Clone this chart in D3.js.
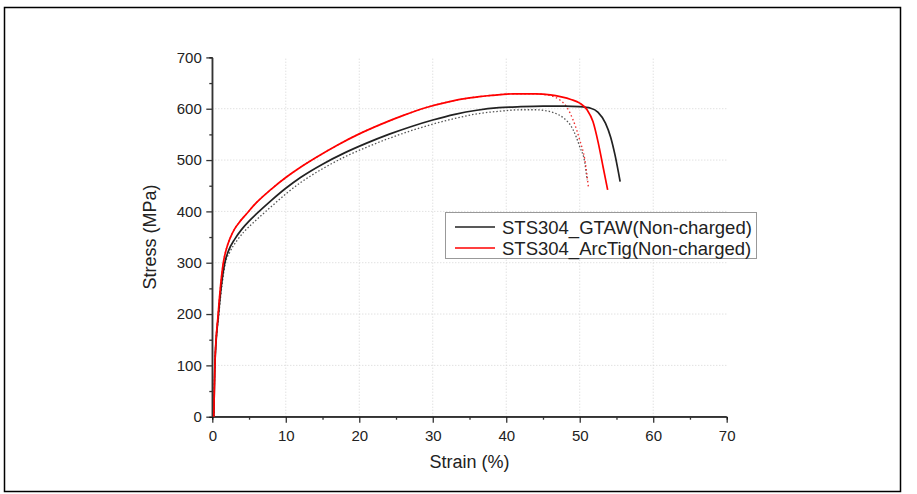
<!DOCTYPE html>
<html>
<head>
<meta charset="utf-8">
<script src="https://cdn.jsdelivr.net/npm/d3@7"></script>
<style>
  body { margin: 0; background: #fff; }
  svg { display: block; font-family: "Liberation Sans", Arial, sans-serif; }
</style>
</head>
<body>
<div id="chart"></div>
<script>
// strain (%), stress (MPa)
const gtaw = [
  [0.2, 0], [0.35, 100], [0.85, 200], [1.7, 300], [2.2, 323], [3.1, 347], [4, 365],
  [5, 381], [6, 395], [8, 421], [10, 445], [12, 466], [15, 492], [18, 514],
  [21, 533], [24, 550], [27, 565], [30, 578], [33, 589], [36, 597], [39, 602],
  [42, 604], [45, 605], [48, 605], [50, 604], [51.5, 601], [52.5, 593],
  [53.5, 572], [54.2, 545], [54.8, 510], [55.5, 458]
];
const gtaw2 = [
  [0.2, 0], [0.35, 100], [0.9, 200], [1.8, 300], [2.4, 321], [3.3, 342], [4.3, 360],
  [5.5, 377], [6.5, 390], [8, 409], [10, 434], [12, 456], [15, 483], [18, 506],
  [21, 525], [24, 542], [27, 557], [30, 570], [33, 581], [36, 590], [39, 595],
  [42, 598], [44, 598], [45.5, 596], [47, 589], [47.8, 582], [49.1, 559],
  [50, 526], [50.7, 494], [51, 461]
];
const arcTig = [
  [0.2, 0], [0.35, 100], [0.8, 200], [1.5, 300], [1.9, 326], [2.4, 347], [3, 365],
  [3.8, 381], [4.7, 396], [6, 417], [8, 443], [10, 466], [12, 486], [14, 504],
  [17, 529], [20, 551], [23, 570], [26, 587], [29, 602], [32, 613], [35, 621],
  [38, 626], [41, 629], [44, 629], [46, 627], [47.5, 623], [48.8, 618],
  [50, 611], [51, 598], [51.8, 575], [52.5, 535], [53.2, 485], [53.8, 442]
];
const arcTig2 = [
  [0.2, 0], [0.35, 100], [0.8, 200], [1.5, 300], [1.9, 326], [2.4, 347], [3, 365],
  [3.8, 381], [4.7, 396], [6, 417], [8, 443], [10, 466], [12, 486], [14, 504],
  [17, 529], [20, 551], [23, 570], [26, 587], [29, 602], [32, 613], [35, 621],
  [38, 626], [41, 629], [44, 629], [45.5, 627], [46.4, 624], [47.3, 617],
  [48.2, 604], [49.1, 578], [50, 539], [50.7, 500], [51.2, 445]
];

const xTicks = [0, 10, 20, 30, 40, 50, 60, 70];
const yTicks = [0, 100, 200, 300, 400, 500, 600, 700];
const legendNames = ["STS304_GTAW(Non-charged)", "STS304_ArcTig(Non-charged)"];

const width = 917;
const height = 494;

const svg = d3.select("#chart")
  .append("svg")
  .attr("width", width)
  .attr("height", height);

// outer frame
svg.append("rect")
  .attr("x", 4.5).attr("y", 7.5)
  .attr("width", 896).attr("height", 484)
  .attr("fill", "none")
  .attr("stroke", "#000")
  .attr("stroke-width", 1.5);

const x = d3.scaleLinear().domain([0, 70]).range([212.3, 726.7]);
const y = d3.scaleLinear().domain([0, 700]).range([416.7, 57.4]);

// GRID
svg.append("g")
  .selectAll("line")
  .data(xTicks.filter(d => d > 0 && d < 70))
  .enter()
  .append("line")
  .attr("x1", d => x(d)).attr("x2", d => x(d))
  .attr("y1", y(0)).attr("y2", y(700))
  .attr("stroke", "#d4d4d4")
  .attr("stroke-dasharray", "1,2");

svg.append("g")
  .selectAll("line")
  .data(yTicks.filter(d => d > 0 && d < 700))
  .enter()
  .append("line")
  .attr("x1", x(0)).attr("x2", x(70))
  .attr("y1", d => y(d)).attr("y2", d => y(d))
  .attr("stroke", "#d4d4d4")
  .attr("stroke-dasharray", "1,2");

// AXES
const xAxis = svg.append("g")
  .attr("transform", `translate(0,${y(0)})`)
  .call(d3.axisBottom(x).tickValues(xTicks).tickSize(6).tickSizeOuter(0).tickPadding(8));
xAxis.append("g")
  .call(d3.axisBottom(x).tickValues(d3.range(5, 70, 10)).tickSize(3).tickFormat(""));

const yAxis = svg.append("g")
  .attr("transform", `translate(${x(0)},0)`)
  .call(d3.axisLeft(y).tickValues(yTicks).tickSize(6).tickSizeOuter(0).tickPadding(4.5));
yAxis.append("g")
  .call(d3.axisLeft(y).tickValues(d3.range(50, 700, 100)).tickSize(3).tickFormat(""));

svg.selectAll(".tick line").attr("stroke", "#333").attr("stroke-width", 1.3);
svg.selectAll(".tick text")
  .attr("fill", "#222")
  .style("font-size", "15px")
  .style("font-family", "'Liberation Sans', Arial, sans-serif");
yAxis.select(".domain").remove();
xAxis.select(".domain").remove();
svg.append("line")
  .attr("x1", x(0)).attr("x2", x(0)).attr("y1", y(0)).attr("y2", y(700))
  .attr("stroke", "#333").attr("stroke-width", 1.5);
svg.append("line")
  .attr("x1", x(0)).attr("x2", x(70)).attr("y1", y(0)).attr("y2", y(0))
  .attr("stroke", "#333").attr("stroke-width", 1.5);

// axis titles
svg.append("text")
  .attr("x", x(35)).attr("y", 468)
  .attr("text-anchor", "middle")
  .attr("fill", "#222")
  .style("font-size", "18px")
  .text("Strain (%)");

svg.append("text")
  .attr("transform", `translate(156,${y(350)}) rotate(-90)`)
  .attr("text-anchor", "middle")
  .attr("fill", "#222")
  .style("font-size", "18px")
  .text("Stress (MPa)");

// CURVES
const line = d3.line()
  .x(d => x(d[0]))
  .y(d => y(d[1]))
  .curve(d3.curveMonotoneX);

const series = [
  { data: gtaw2, color: "#555", width: 1.3, dash: "1.5,2" },
  { data: arcTig2, color: "#e33", width: 1.4, dash: "1.5,2.5" },
  { data: gtaw, color: "#222", width: 1.7, dash: null },
  { data: arcTig, color: "#f00", width: 1.7, dash: null }
];

svg.append("g")
  .selectAll("path")
  .data(series)
  .enter()
  .append("path")
  .attr("d", d => line(d.data))
  .attr("fill", "none")
  .attr("stroke", d => d.color)
  .attr("stroke-width", d => d.width)
  .attr("stroke-dasharray", d => d.dash);

// LEGEND
const legend = svg.append("g");
legend.append("rect")
  .attr("x", 445.5).attr("y", 212.5)
  .attr("width", 311).attr("height", 46)
  .attr("fill", "#fff")
  .attr("stroke", "#999");

const items = legend.selectAll("g.item")
  .data(legendNames)
  .enter()
  .append("g")
  .attr("transform", (d, i) => `translate(0,${227 + i * 21})`);

items.append("line")
  .attr("x1", 455).attr("x2", 495)
  .attr("stroke", (d, i) => i === 0 ? "#222" : "#f00")
  .attr("stroke-width", 1.6);

items.append("text")
  .attr("x", 502).attr("dy", 6.5)
  .attr("fill", "#222")
  .style("font-size", "18.5px")
  .text(d => d);
</script>
</body>
</html>
